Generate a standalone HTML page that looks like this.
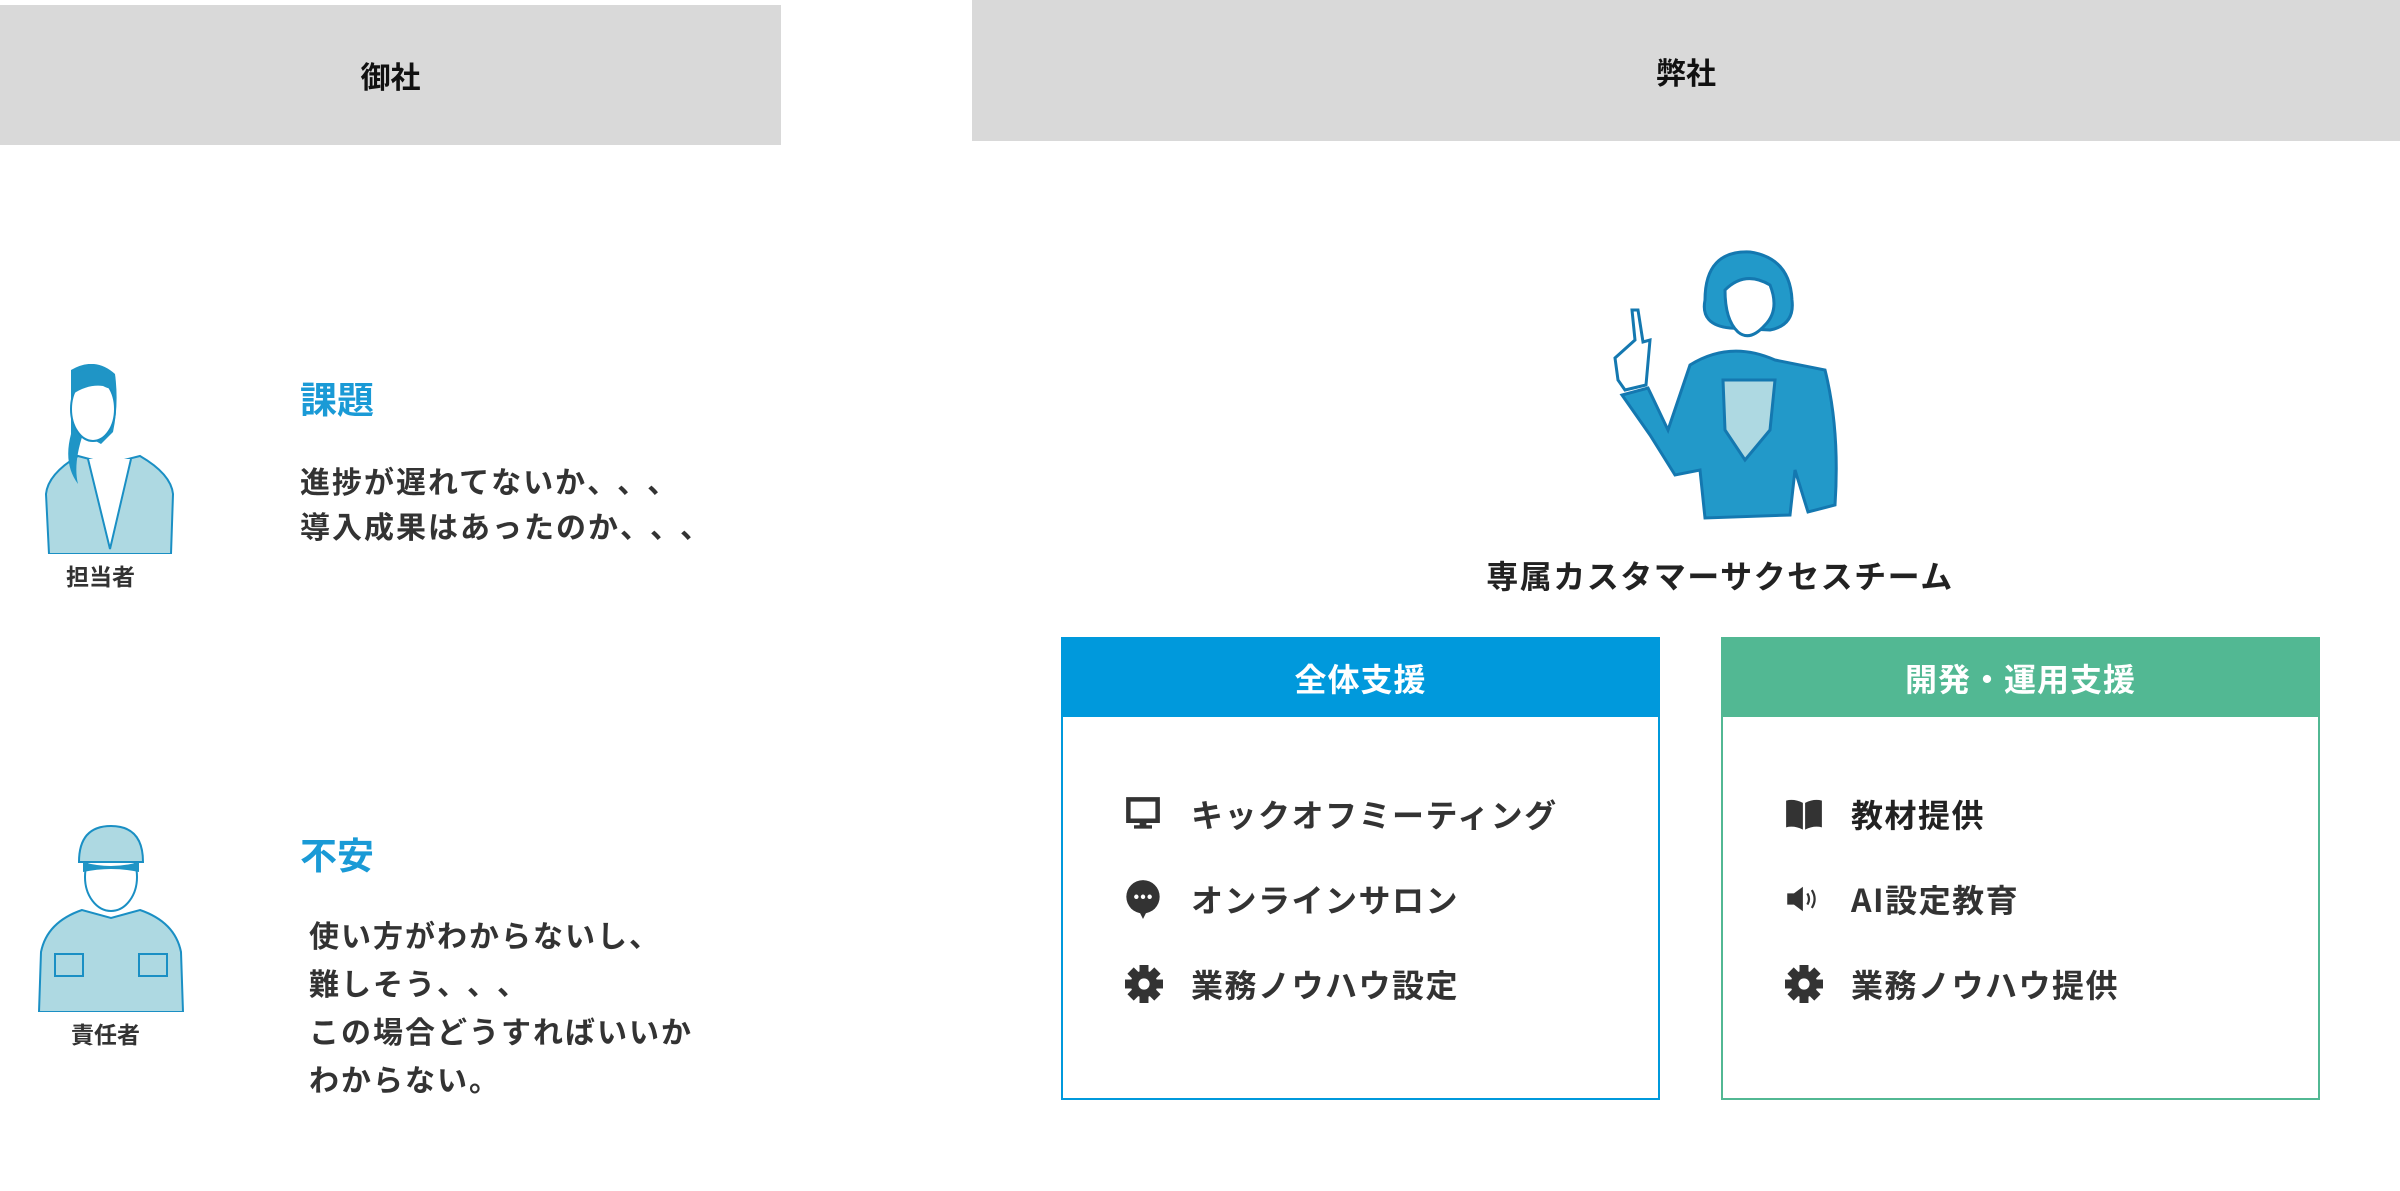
<!DOCTYPE html>
<html><head><meta charset="utf-8"><style>
body{margin:0;width:2400px;height:1191px;background:#fff;position:relative;overflow:hidden;font-family:"Noto Sans CJK JP","Liberation Sans",sans-serif;font-weight:bold;color:#333}
.a{position:absolute;white-space:nowrap}
.p{display:inline-block;width:1em}
.hd{position:absolute;background:#d9d9d9;display:flex;align-items:center;justify-content:center;font-size:30px;color:#111}
.box{position:absolute;top:637px;width:599px;height:463px;box-sizing:border-box;border:2px solid}
.bh{height:78px;display:flex;align-items:center;justify-content:center;color:#fff;font-size:32px;letter-spacing:1px}
.it{position:absolute;font-size:32px;letter-spacing:1.5px;color:#333;display:flex;align-items:center}
.it svg{position:absolute;left:-66px}
</style></head><body>
<div class="hd" style="left:0;top:5px;width:781px;height:140px">御社</div>
<div class="hd" style="left:972px;top:0;width:1428px;height:141px">弊社</div>

<svg class="a" style="left:43px;top:364px" width="135" height="190" viewBox="0 0 135 190">
<path d="M6 190 L3 130 Q5 110 35 92 L65 100 L97 92 Q128 110 130 130 L128 190 Z" fill="#aed9e2" stroke="#1a8fc4" stroke-width="2"/>
<path d="M45 95 L67 185 L88 95" fill="#fff" stroke="#1a8fc4" stroke-width="2"/>
<path d="M28 6 Q52 -8 72 10 Q76 40 70 68 L58 80 L40 70 Q30 100 35 120 Q20 100 28 70 Z" fill="#1f95c6"/>
<ellipse cx="50" cy="45" rx="22" ry="32" fill="#fff" stroke="#1a8fc4" stroke-width="2"/>
<path d="M30 10 Q50 0 72 12 Q75 30 60 22 Q45 20 30 30 Z" fill="#1f95c6"/>
</svg>
<div class="a" style="left:66px;top:558px;font-size:23px">担当者</div>
<div class="a" style="left:300px;top:370px;font-size:37px;color:#1a9ad6">課題</div>
<div class="a" style="left:300px;top:458px;font-size:30px;letter-spacing:2px;line-height:45px">進捗が遅れてないか<span class="p">、</span><span class="p">、</span><span class="p">、</span><br>導入成果はあったのか<span class="p">、</span><span class="p">、</span><span class="p">、</span></div>

<svg class="a" style="left:37px;top:822px" width="148" height="190" viewBox="0 0 148 190">
<path d="M2 190 L4 130 Q10 100 45 88 L74 96 L103 88 Q138 100 144 130 L146 190 Z" fill="#aed9e2" stroke="#1a8fc4" stroke-width="2"/>
<rect x="18" y="132" width="28" height="22" fill="#aed9e2" stroke="#1a8fc4" stroke-width="2"/>
<rect x="102" y="132" width="28" height="22" fill="#aed9e2" stroke="#1a8fc4" stroke-width="2"/>
<ellipse cx="74" cy="55" rx="26" ry="34" fill="#fff" stroke="#1a8fc4" stroke-width="2"/>
<path d="M42 40 Q42 4 74 4 Q106 4 106 40 Z" fill="#aed9e2" stroke="#1a8fc4" stroke-width="2"/>
<path d="M46 40 Q74 48 102 40 L102 50 Q74 44 46 50 Z" fill="#1f95c6"/>
</svg>
<div class="a" style="left:71px;top:1016px;font-size:23px">責任者</div>
<div class="a" style="left:300px;top:826px;font-size:37px;color:#1a9ad6">不安</div>
<div class="a" style="left:309px;top:910px;font-size:30px;letter-spacing:2px;line-height:48px">使い方がわからないし<span class="p">、</span><br>難しそう<span class="p">、</span><span class="p">、</span><span class="p">、</span><br>この場合どうすればいいか<br>わからない<span class="p">。</span></div>

<svg class="a" style="left:1580px;top:230px" width="300" height="300" viewBox="0 0 300 300">
<path d="M110 135 Q150 110 195 130 L245 140 Q260 200 255 275 L228 282 L215 240 L210 285 L125 288 L120 240 L95 245 L70 205 L42 165 L68 158 L88 200 L110 135 Z" fill="#2299c9" stroke="#1478b0" stroke-width="3"/>
<path d="M143 150 L195 150 L190 200 L165 230 L145 200 Z" fill="#aed9e2" stroke="#1478b0" stroke-width="3"/>
<path d="M125 70 Q125 20 170 22 Q210 28 212 70 Q215 95 190 100 L150 98 Q120 95 125 70 Z" fill="#2299c9" stroke="#1478b0" stroke-width="3"/>
<path d="M145 60 Q165 40 190 55 Q200 80 185 95 Q170 112 158 102 Q145 90 145 60 Z" fill="#fff" stroke="#1478b0" stroke-width="3"/>
<path d="M52 80 L55 110 L35 128 L38 150 L45 160 L66 155 L70 110 L63 112 L58 80 Z" fill="#fff" stroke="#1478b0" stroke-width="3"/>
</svg>
<div class="a" style="left:1720px;top:552px;font-size:32px;letter-spacing:1.5px;transform:translateX(-50%);color:#222">専属カスタマーサクセスチーム</div>

<div class="box" style="left:1061px;border-color:#0099dc">
<div class="bh" style="background:#0099dc">全体支援</div>
<div class="it" style="left:128px;top:152px"><svg width="36" height="34" viewBox="0 0 32 30"><rect x="3" y="2" width="26" height="19" fill="none" stroke="#333" stroke-width="4"/><rect x="13" y="21" width="6" height="5" fill="#333"/><rect x="8" y="25" width="16" height="3" fill="#333"/></svg>キックオフミーティング</div>
<div class="it" style="left:128px;top:237px"><svg width="36" height="40" viewBox="0 0 32 36"><ellipse cx="16" cy="16" rx="15" ry="15" fill="#333"/><path d="M12 28 L16 36 L20 28Z" fill="#333"/><circle cx="10" cy="16" r="2" fill="#fff"/><circle cx="16" cy="16" r="2" fill="#fff"/><circle cx="22" cy="16" r="2" fill="#fff"/></svg>オンラインサロン</div>
<div class="it" style="left:128px;top:322px"><svg width="38" height="38" viewBox="0 0 34 34"><g fill="#333"><circle cx="17" cy="17" r="12"/><rect x="13" y="0" width="8" height="34"/><rect x="0" y="13" width="34" height="8"/><rect x="13" y="0" width="8" height="34" transform="rotate(45 17 17)"/><rect x="13" y="0" width="8" height="34" transform="rotate(-45 17 17)"/></g><circle cx="17" cy="17" r="5" fill="#fff"/></svg>業務ノウハウ設定</div>
</div>

<div class="box" style="left:1721px;border-color:#52b893">
<div class="bh" style="background:#52b893">開発・運用支援</div>
<div class="it" style="left:128px;top:152px;color:#222"><svg width="38" height="34" viewBox="0 0 34 30"><path d="M1 3 Q8 1 16 5 L16 29 Q8 25 1 27Z M18 5 Q26 1 33 3 L33 27 Q26 25 18 29Z" fill="#333"/></svg>教材提供</div>
<div class="it" style="left:128px;top:237px"><svg width="38" height="34" viewBox="0 0 34 30"><path d="M2 10 L8 10 L16 4 L16 26 L8 20 L2 20Z" fill="#333"/><path d="M20 10 Q23 15 20 20 M24 7 Q29 15 24 23" fill="none" stroke="#333" stroke-width="2"/></svg>AI設定教育</div>
<div class="it" style="left:128px;top:322px"><svg width="38" height="38" viewBox="0 0 34 34"><g fill="#333"><circle cx="17" cy="17" r="12"/><rect x="13" y="0" width="8" height="34"/><rect x="0" y="13" width="34" height="8"/><rect x="13" y="0" width="8" height="34" transform="rotate(45 17 17)"/><rect x="13" y="0" width="8" height="34" transform="rotate(-45 17 17)"/></g><circle cx="17" cy="17" r="5" fill="#fff"/></svg>業務ノウハウ提供</div>
</div>
</body></html>
